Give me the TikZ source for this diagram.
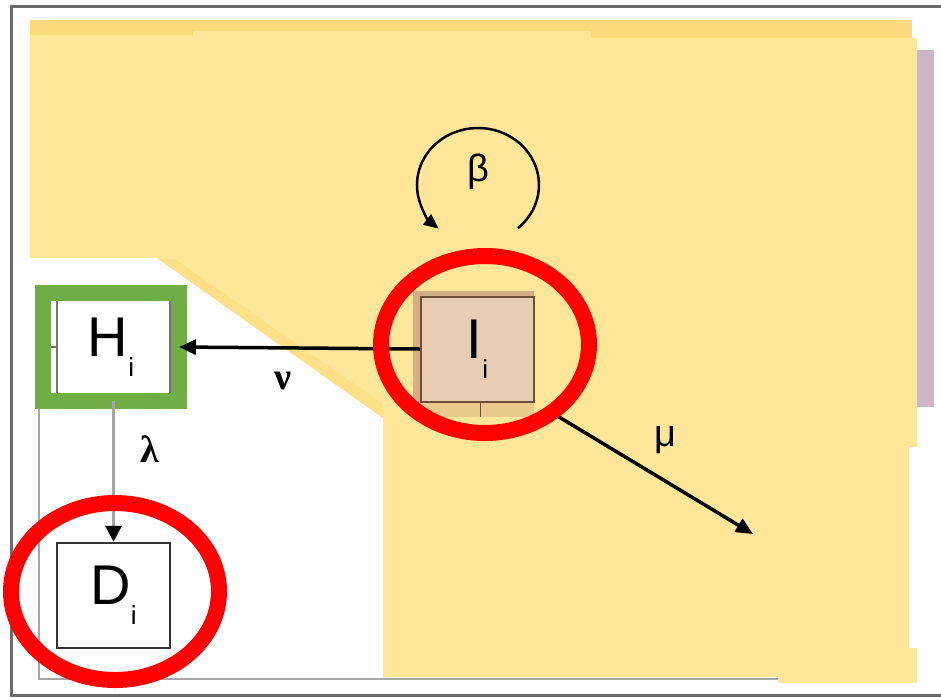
\documentclass[tikz,border=0pt]{standalone}
\usepackage{fontspec}
\setmainfont{Liberation Sans}
\newfontfamily\greekserif{Liberation Serif}
\usetikzlibrary{arrows.meta,positioning}

\definecolor{paleyellow}{HTML}{FFE699}
\definecolor{deepyellow}{HTML}{FCD97B}
\definecolor{mauve}{HTML}{CDB5C9}
\definecolor{tanedge}{HTML}{D4AE84}
\definecolor{tanlow}{HTML}{E9C98C}
\definecolor{tanfill}{HTML}{E6CDB4}
\definecolor{tanline}{HTML}{6E5038}
\definecolor{leafgreen}{HTML}{70AD47}
\definecolor{wiregray}{HTML}{A6A6A6}
\definecolor{framegray}{HTML}{6B6B6B}

\newcommand{\subi}[1]{#1\raisebox{-20pt}{\fontsize{26}{26}\selectfont i}}

\begin{document}
\begin{tikzpicture}[
    x=1pt, y=-1pt,
    box/.style={rectangle, draw, minimum width=113pt, minimum height=105pt, inner sep=0pt, font=\fontsize{56}{56}\selectfont},
    arrow/.style={-{Triangle[length=17pt,width=15pt]}, line width=3.5pt},
    ring/.style={draw=red, line width=16pt},
    thinwire/.style={draw=black!55, line width=1.5pt},
    sansgreek/.style={font=\fontsize{38}{38}\selectfont},
    serifgreek/.style={font=\greekserif\bfseries\fontsize{38}{38}\selectfont}
]
\useasboundingbox (0,0) rectangle (941,697);
\fill[white] (0,0) rectangle (941,697);

% frames
\draw[wiregray, line width=2pt] (39,409) -- (39,679) -- (917,679);
\draw[framegray, line width=3pt] (941,6) -- (11,6) -- (11,695) -- (941,695);

% yellow patches
\fill[deepyellow] (30,20) rectangle (912,40);
\fill[mauve] (917,50) rectangle (934,407);
\fill[paleyellow] (30,35) -- (193,35) -- (193,31) -- (591,31) -- (591,38) -- (917,38)
    -- (917,447) -- (909,447) -- (909,648) -- (917,648) -- (917,683) -- (778,683)
    -- (778,677) -- (383,677) -- (383,418) -- (157,258) -- (30,258) -- cycle;
\fill[deepyellow!55!paleyellow] (157,258) -- (383,418) -- (383,404) -- (176,260) -- cycle;

% infected box
\fill[tanedge] (413,291) rectangle (534,417);
\fill[tanlow] (413,402) rectangle (534,417);
\node[box, fill=tanfill, draw=tanline, line width=2pt] (Ii) at (477.5,349) {\subi{I}};
\draw[tanline, line width=1pt] (Ii.south -| 480,0) -- (480,417);

% hospital box
\node[box, fill=white, draw=leafgreen, line width=16pt, minimum width=136pt, minimum height=108pt, outer sep=0pt] (Hi) at (111,347) {\subi{H}};
\draw[thinwire] ([shift={(-54,8)}]Hi.north) -- ([shift={(-54,-8)}]Hi.south);
\draw[thinwire] ([shift={(59,8)}]Hi.north) -- ([shift={(59,-8)}]Hi.south);
\draw[thinwire] ([xshift=8]Hi.west) -- ++(6,0);

% death box
\node[box, fill=white, draw=black!80, line width=2.5pt] (Di) at (113.5,595.5) {\subi{D}};

% transitions
\coordinate (loopstart) at (518,228);
\coordinate (muend) at (753,534);
\draw[line width=2.5pt, -{Triangle[length=15pt,width=13pt]}] (loopstart) arc[start angle=49, end angle=-230, x radius=61, y radius=57];
\draw[arrow] (Ii.west) -- (Hi.east);
\draw[arrow, shorten <=18pt] (Ii.south east) -- (muend);
\draw[line width=3.5pt, wiregray, -{Triangle[length=16pt,width=16pt,color=black]}] (Hi.south -| Di.north) -- (Di.north);

\node[sansgreek] (beta) at (478,172) {β};
\node[sansgreek] (mu) at (665,440) {μ};
\node[serifgreek] (lambda) at (150,449) {λ};
\node[serifgreek] (nu) at (283,381) {ν};

% highlight rings
\draw[ring] (485,344.5) ellipse [x radius=104, y radius=88.5];
\draw[ring] (115,591.5) ellipse [x radius=104, y radius=88.5];

\end{tikzpicture}
\end{document}
